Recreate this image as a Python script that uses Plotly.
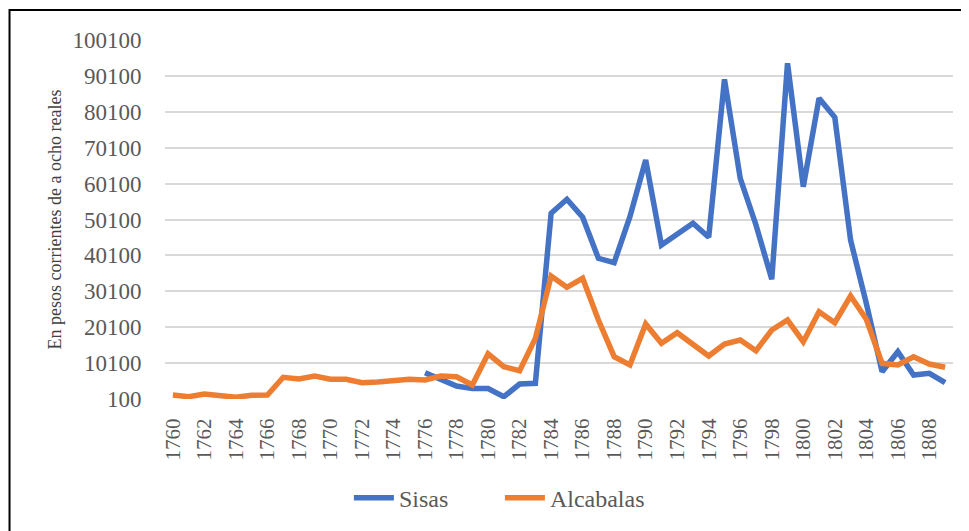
import plotly.graph_objects as go

years = [str(y) for y in range(1760, 1810)]
tick_years = [str(y) for y in range(1760, 1810, 2)]

alcabalas = [1200, 740, 1500, 940, 570, 1130, 1200, 6150, 5670, 6500,
             5590, 5590, 4640, 4840, 5200, 5590, 5390, 6500, 6300, 4000,
             12700, 9100, 7980, 17000, 34360, 31210, 33720, 22100, 11880, 9570,
             21000, 15620, 18570, 15140, 12080, 15420, 16530, 13550, 19320, 22100,
             16060, 24420, 21350, 28790, 22300, 10030, 9570, 11880, 9850, 8930]

sisas = [None] * 16 + [7430, 5390, 3720, 3000,
         3000, 740, 4280, 4470, 51830, 55730, 50710, 39290, 38070, 50880,
         66670, 43000, 46060, 49040, 45140, 89150, 61570, 48570, 33440, 93610,
         59240, 83860, 78570, 44390, 26760, 7700, 13280, 6790, 7260, 4640]

y_ticks = list(range(100, 100101, 10000))

FONT = "Liberation Serif"

fig = go.Figure()
fig.add_trace(go.Scatter(x=years, y=sisas, name="Sisas", mode="lines",
                         line=dict(color="#4472C4", width=5.5)))
fig.add_trace(go.Scatter(x=years, y=alcabalas, name="Alcabalas", mode="lines",
                         line=dict(color="#ED7D31", width=5.5)))

fig.update_layout(
    width=969, height=531,
    margin=dict(l=157, r=24, t=32, b=140),
    paper_bgcolor="white", plot_bgcolor="white",
    font=dict(family=FONT, color="#595959"),
    showlegend=True,
    legend=dict(orientation="h", x=0.425, y=-0.276, xanchor="center", yanchor="middle",
                font=dict(size=24, color="#595959", family=FONT), itemwidth=40,
                entrywidth=96, entrywidthmode="pixels",
                bgcolor="rgba(0,0,0,0)"),
    xaxis=dict(type="category", categoryorder="array", categoryarray=years,
               range=[-0.5, 49.5], tickmode="array", tickvals=tick_years, ticktext=tick_years,
               tickangle=-90, tickfont=dict(size=21, color="#595959", family=FONT),
               showgrid=False, showline=False, ticks="outside", ticklen=10,
               tickcolor="rgba(0,0,0,0)", zeroline=False),
    yaxis=dict(range=[100, 100100], tickmode="array", tickvals=y_ticks,
               ticktext=[str(v) for v in y_ticks],
               tickfont=dict(size=23, color="#595959", family=FONT),
               showgrid=True, gridcolor="#D9D9D9", gridwidth=1.5,
               zeroline=False, showline=False, ticks="outside", ticklen=18,
               tickcolor="rgba(0,0,0,0)",
               title=dict(text="En pesos corrientes de a ocho reales",
                          font=dict(size=18, color="#404040", family=FONT), standoff=6)),
    shapes=[dict(type="rect", xref="paper", yref="paper",
                 x0=-0.1973, x1=1.03, y0=-0.43, y1=1.0836,
                 line=dict(color="black", width=2), fillcolor="rgba(0,0,0,0)", layer="below")],
)

fig.write_html("out.html")
